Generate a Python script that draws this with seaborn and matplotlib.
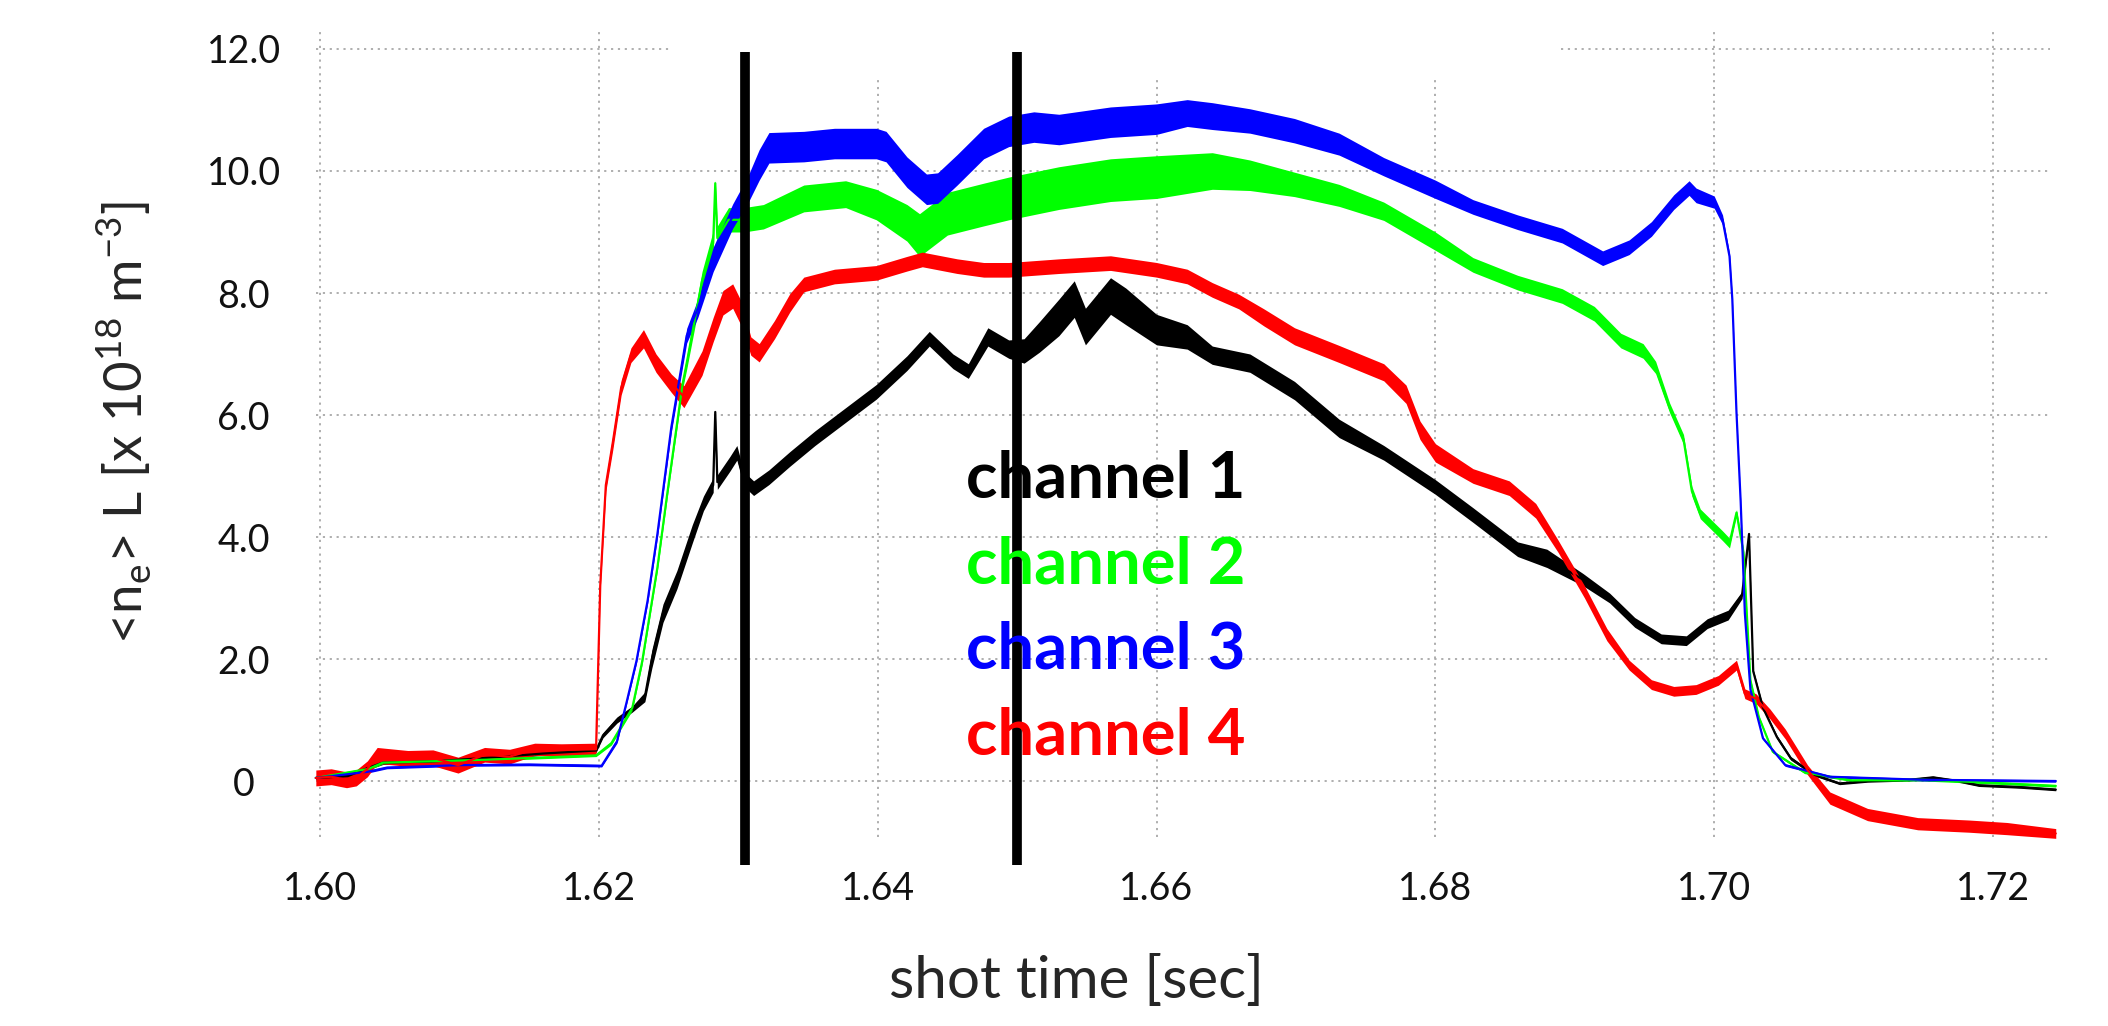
import matplotlib
matplotlib.use("Agg")
import matplotlib.pyplot as plt
import seaborn as sns
import pandas as pd

# each row: (shot time [s], <ne>L value, half width of the noise band)
ch1 = [
    (1.5997, 0.05, 0.03), (1.6020, 0.08, 0.03), (1.6035, 0.22, 0.03), (1.6045, 0.30, 0.03),
    (1.6080, 0.32, 0.03), (1.6120, 0.38, 0.03), (1.6160, 0.45, 0.03), (1.6198, 0.50, 0.03),
    (1.6203, 0.75, 0.04), (1.6213, 1.00, 0.05), (1.6224, 1.18, 0.05), (1.6233, 1.38, 0.08),
    (1.6238, 2.00, 0.15), (1.6246, 2.75, 0.15), (1.6256, 3.30, 0.15), (1.6267, 4.05, 0.15),
    (1.6275, 4.55, 0.12), (1.6282, 4.85, 0.12), (1.62835, 6.05, 0.02), (1.6285, 4.90, 0.12),
    (1.6294, 5.20, 0.12), (1.6299, 5.38, 0.12), (1.6304, 4.95, 0.12), (1.6311, 4.80, 0.12),
    (1.6322, 4.98, 0.12), (1.6337, 5.28, 0.12), (1.6355, 5.62, 0.12), (1.6377, 6.00, 0.12),
    (1.6399, 6.38, 0.12), (1.6421, 6.85, 0.12), (1.6437, 7.25, 0.12), (1.6454, 6.88, 0.12),
    (1.6465, 6.72, 0.12), (1.6479, 7.28, 0.15), (1.6494, 7.08, 0.15), (1.6505, 7.05, 0.20),
    (1.6516, 7.28, 0.25), (1.6530, 7.60, 0.30), (1.6541, 7.90, 0.30), (1.6549, 7.45, 0.30),
    (1.6558, 7.70, 0.30), (1.6567, 7.95, 0.30), (1.6578, 7.78, 0.30), (1.6600, 7.40, 0.25),
    (1.6622, 7.28, 0.20), (1.6640, 6.98, 0.15), (1.6667, 6.85, 0.15), (1.6699, 6.40, 0.15),
    (1.6731, 5.78, 0.15), (1.6763, 5.38, 0.12), (1.6800, 4.82, 0.12), (1.6827, 4.36, 0.12),
    (1.6859, 3.80, 0.12), (1.6880, 3.65, 0.15), (1.6906, 3.30, 0.10), (1.6925, 3.00, 0.08),
    (1.6943, 2.60, 0.08), (1.6962, 2.33, 0.08), (1.6980, 2.30, 0.08), (1.6995, 2.58, 0.08),
    (1.7010, 2.72, 0.08), (1.7020, 3.05, 0.06), (1.7025, 4.05, 0.03), (1.7028, 1.80, 0.03),
    (1.7035, 1.20, 0.03), (1.7045, 0.72, 0.03), (1.7055, 0.37, 0.03), (1.7072, 0.10, 0.02),
    (1.7090, -0.04, 0.02), (1.7110, 0.00, 0.02), (1.7140, 0.02, 0.02), (1.7157, 0.06, 0.02),
    (1.7175, 0.00, 0.02), (1.7190, -0.07, 0.02), (1.7220, -0.10, 0.02), (1.7245, -0.14, 0.02),
]

ch2 = [
    (1.5997, 0.05, 0.02), (1.6035, 0.20, 0.02), (1.6045, 0.30, 0.02), (1.6120, 0.35, 0.02),
    (1.6198, 0.42, 0.02), (1.6209, 0.62, 0.03), (1.6224, 1.20, 0.04), (1.6231, 1.95, 0.05),
    (1.6242, 3.50, 0.05), (1.6249, 4.70, 0.06), (1.6260, 6.50, 0.08), (1.6263, 6.85, 0.10),
    (1.6274, 8.20, 0.15), (1.6282, 8.82, 0.20), (1.62835, 9.80, 0.05), (1.6285, 8.90, 0.20),
    (1.6293, 9.20, 0.20), (1.6304, 9.20, 0.20), (1.6318, 9.25, 0.20), (1.6347, 9.55, 0.22),
    (1.6377, 9.62, 0.22), (1.6399, 9.45, 0.25), (1.6421, 9.15, 0.30), (1.6430, 8.95, 0.35),
    (1.6450, 9.30, 0.35), (1.6476, 9.45, 0.35), (1.6494, 9.55, 0.35), (1.6530, 9.72, 0.35),
    (1.6567, 9.85, 0.35), (1.6600, 9.90, 0.35), (1.6640, 10.00, 0.30), (1.6667, 9.93, 0.25),
    (1.6699, 9.78, 0.20), (1.6731, 9.60, 0.18), (1.6763, 9.34, 0.15), (1.6800, 8.85, 0.15),
    (1.6827, 8.46, 0.12), (1.6859, 8.17, 0.12), (1.6891, 7.95, 0.12), (1.6914, 7.66, 0.12),
    (1.6933, 7.22, 0.12), (1.6949, 7.05, 0.12), (1.6958, 6.78, 0.10), (1.6968, 6.12, 0.08),
    (1.6978, 5.60, 0.08), (1.6984, 4.75, 0.08), (1.6990, 4.38, 0.08), (1.7006, 4.02, 0.08),
    (1.7011, 3.90, 0.08), (1.7016, 4.40, 0.05), (1.7021, 3.75, 0.05), (1.7026, 1.65, 0.03),
    (1.7032, 1.05, 0.02), (1.7042, 0.48, 0.02), (1.7065, 0.14, 0.02), (1.7099, 0.01, 0.02),
    (1.7150, 0.02, 0.02), (1.7200, -0.03, 0.02), (1.7245, -0.08, 0.02),
]

ch3 = [
    (1.5997, 0.05, 0.02), (1.6034, 0.15, 0.02), (1.6048, 0.22, 0.02), (1.6100, 0.26, 0.02),
    (1.6150, 0.27, 0.02), (1.6202, 0.25, 0.02), (1.6213, 0.65, 0.03), (1.6220, 1.30, 0.03),
    (1.6227, 1.97, 0.04), (1.6235, 2.96, 0.05), (1.6242, 4.05, 0.06), (1.6252, 5.80, 0.08),
    (1.6263, 7.30, 0.12), (1.6271, 7.75, 0.15), (1.6282, 8.55, 0.20), (1.6296, 9.26, 0.20),
    (1.6307, 9.70, 0.22), (1.6315, 10.10, 0.25), (1.6322, 10.38, 0.25), (1.6347, 10.40, 0.25),
    (1.6369, 10.45, 0.25), (1.6399, 10.45, 0.25), (1.6406, 10.40, 0.25), (1.6421, 9.98, 0.25),
    (1.6435, 9.70, 0.25), (1.6443, 9.72, 0.25), (1.6457, 10.02, 0.25), (1.6476, 10.45, 0.25),
    (1.6494, 10.65, 0.25), (1.6512, 10.72, 0.25), (1.6530, 10.68, 0.25), (1.6567, 10.80, 0.25),
    (1.6600, 10.85, 0.25), (1.6622, 10.95, 0.22), (1.6640, 10.90, 0.22), (1.6667, 10.82, 0.20),
    (1.6699, 10.66, 0.20), (1.6731, 10.44, 0.18), (1.6763, 10.07, 0.15), (1.6800, 9.70, 0.15),
    (1.6827, 9.41, 0.12), (1.6859, 9.16, 0.12), (1.6891, 8.94, 0.12), (1.6920, 8.57, 0.12),
    (1.6939, 8.75, 0.12), (1.6955, 9.05, 0.12), (1.6971, 9.49, 0.12), (1.6982, 9.72, 0.12),
    (1.6987, 9.60, 0.12), (1.7000, 9.49, 0.10), (1.7006, 9.20, 0.08), (1.7011, 8.60, 0.05),
    (1.7013, 7.90, 0.03), (1.7016, 6.04, 0.02), (1.7019, 4.58, 0.02), (1.7022, 2.75, 0.02),
    (1.7026, 1.50, 0.02), (1.7035, 0.70, 0.02), (1.7051, 0.26, 0.02), (1.7083, 0.07, 0.02),
    (1.7150, 0.02, 0.02), (1.7245, 0.00, 0.02),
]

ch4 = [
    (1.5997, 0.05, 0.13), (1.6008, 0.07, 0.13), (1.6019, 0.02, 0.13), (1.6026, 0.05, 0.13),
    (1.6034, 0.20, 0.13), (1.6041, 0.42, 0.13), (1.6063, 0.37, 0.13), (1.6081, 0.38, 0.13),
    (1.6099, 0.26, 0.13), (1.6118, 0.43, 0.12), (1.6136, 0.40, 0.12), (1.6154, 0.52, 0.10),
    (1.6173, 0.51, 0.10), (1.6198, 0.52, 0.10), (1.6201, 3.20, 0.05), (1.6205, 4.85, 0.10),
    (1.6210, 5.55, 0.12), (1.6216, 6.45, 0.12), (1.6223, 6.98, 0.12), (1.6232, 7.25, 0.15),
    (1.6241, 6.85, 0.15), (1.6252, 6.52, 0.15), (1.6261, 6.30, 0.18), (1.6274, 6.85, 0.20),
    (1.6282, 7.40, 0.20), (1.6289, 7.84, 0.20), (1.6296, 7.95, 0.20), (1.6302, 7.67, 0.20),
    (1.6309, 7.13, 0.15), (1.6315, 7.02, 0.15), (1.6326, 7.40, 0.15), (1.6337, 7.84, 0.15),
    (1.6347, 8.14, 0.12), (1.6369, 8.27, 0.12), (1.6399, 8.33, 0.12), (1.6421, 8.48, 0.12),
    (1.6432, 8.55, 0.12), (1.6457, 8.44, 0.12), (1.6476, 8.38, 0.12), (1.6494, 8.38, 0.12),
    (1.6530, 8.44, 0.12), (1.6567, 8.49, 0.12), (1.6600, 8.38, 0.12), (1.6622, 8.27, 0.12),
    (1.6640, 8.05, 0.12), (1.6659, 7.86, 0.12), (1.6677, 7.60, 0.14), (1.6699, 7.29, 0.14),
    (1.6731, 7.00, 0.14), (1.6747, 6.85, 0.14), (1.6763, 6.70, 0.14), (1.6779, 6.34, 0.15),
    (1.6789, 5.75, 0.15), (1.6800, 5.38, 0.15), (1.6827, 5.00, 0.12), (1.6853, 4.80, 0.12),
    (1.6872, 4.43, 0.12), (1.6888, 3.85, 0.10), (1.6907, 3.10, 0.10), (1.6923, 2.40, 0.10),
    (1.6939, 1.90, 0.08), (1.6955, 1.58, 0.08), (1.6971, 1.47, 0.08), (1.6987, 1.50, 0.08),
    (1.7003, 1.65, 0.08), (1.7016, 1.90, 0.08), (1.7022, 1.43, 0.08), (1.7030, 1.35, 0.08),
    (1.7040, 1.10, 0.08), (1.7051, 0.77, 0.08), (1.7067, 0.18, 0.08), (1.7083, -0.28, 0.10),
    (1.7110, -0.55, 0.10), (1.7146, -0.70, 0.10), (1.7183, -0.74, 0.10), (1.7210, -0.78, 0.10),
    (1.7245, -0.86, 0.08),
]

channel_names = ["channel 1", "channel 2", "channel 3", "channel 4"]
channel_colors = ["#000000", "#00ff00", "#0000ff", "#ff0000"]
marker_times = [1.6305, 1.6500]

x_ticks = [1.60, 1.62, 1.64, 1.66, 1.68, 1.70, 1.72]
x_tick_labels = ["1.60", "1.62", "1.64", "1.66", "1.68", "1.70", "1.72"]
y_ticks = [0, 2, 4, 6, 8, 10, 12]
y_tick_labels = ["0", "2.0", "4.0", "6.0", "8.0", "10.0", "12.0"]

## ##############################
sns.set_style("white")
plt.rcParams['font.family'] = ['Lato', 'DejaVu Sans']
plt.rcParams['mathtext.fontset'] = 'custom'
plt.rcParams['mathtext.rm'] = 'Lato'

fig = plt.figure(figsize=(21.08, 10.26), dpi=100)
ax = fig.add_axes([0.14189, 0.15258, 0.83994, 0.82939])
ax.set_xlim(1.5985, 1.7255)
ax.set_ylim(-1.45, 12.5)

# dotted grid, drawn by hand because some lines stop short at the top
grid_kw = dict(color="#a8a8a8", linewidth=1.3, linestyle=(0, (1.2, 2.6)), zorder=0)
for xt in x_ticks:
    top = 11.55 if xt in (1.64, 1.66, 1.68) else 12.3
    ax.vlines(xt, -0.92, top, **grid_kw)
for yt in y_ticks:
    if yt == 12:
        ax.hlines(yt, 1.5997, 1.625, **grid_kw)
        ax.hlines(yt, 1.689, 1.7241, **grid_kw)
    else:
        ax.hlines(yt, 1.5997, 1.7241, **grid_kw)

for rows, name, color in zip([ch1, ch2, ch3, ch4], channel_names, channel_colors):
    df = pd.DataFrame(rows, columns=["t", "v", "w"])
    ax.fill_between(df.t, df.v - df.w, df.v + df.w, color=color, linewidth=0, zorder=2)
    sns.lineplot(data=df, x="t", y="v", ax=ax, color=color, linewidth=1.6,
                 estimator=None, sort=False, zorder=3)

for mt in marker_times:
    ax.vlines(mt, -1.37, 11.95, color="black", linewidth=7, zorder=4)

# channel legend as coloured text
for i, (name, color) in enumerate(zip(channel_names, channel_colors)):
    ax.text(1.6463, 4.64 - i * 1.40, name, color=color, fontsize=47,
            fontweight="bold", ha="left", va="baseline", zorder=5)

ax.set_xticks(x_ticks, x_tick_labels)
ax.set_yticks(y_ticks, y_tick_labels)
ax.tick_params(axis="both", length=0, labelsize=27, labelcolor="#111111")
ax.tick_params(axis="x", pad=1)
ax.tick_params(axis="y", pad=40)
for lbl in ax.get_yticklabels():
    lbl.set_horizontalalignment("center")

for s in ax.spines.values():
    s.set_visible(False)

ax.set_xlabel("shot time [sec]", fontsize=42)
ax.xaxis.label.set_va("center")
ax.xaxis.set_label_coords(0.439, -0.132)
ax.set_ylabel(r"<n$_{\mathrm{e}}$> L [x 10$^{\mathrm{18}}$ m$^{\mathrm{-3}}$]", fontsize=38)
ax.yaxis.label.set_va("center")
ax.yaxis.set_label_coords(-0.0988, 0.525)

fig.savefig("out.png", dpi=100, facecolor="white")
